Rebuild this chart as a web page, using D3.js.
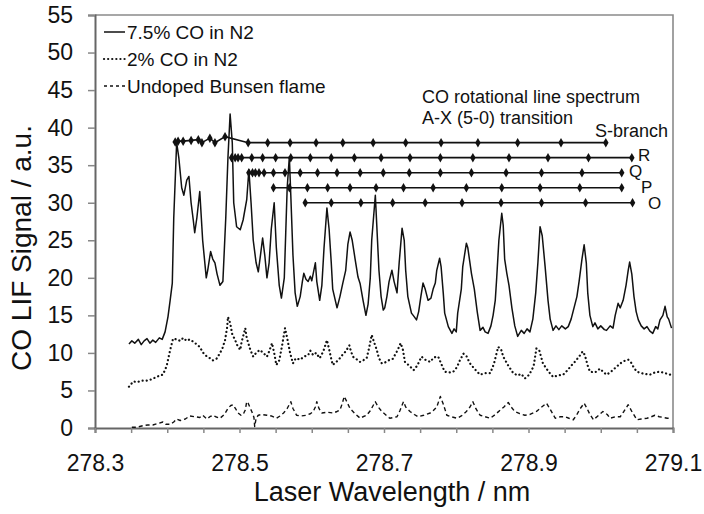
<!DOCTYPE html>
<html>
<head>
<meta charset="utf-8">
<script src="https://cdnjs.cloudflare.com/ajax/libs/d3/7.8.5/d3.min.js"></script>
<style>
  body { margin: 0; background: #fff; }
  text { font-family: "Liberation Sans", Arial, sans-serif; fill: #111; }
</style>
</head>
<body>
<script>
// ---- data ----
// 7.5% CO in N2 (solid)
const co75Wl = [278.347,278.351,278.355,278.360,278.364,278.368,278.372,278.376,278.380,278.384,278.389,278.393,278.397,278.401,278.404,278.407,278.409,278.413,278.416,278.420,278.423,278.427,278.430,278.433,278.436,278.438,278.441,278.445,278.449,278.454,278.456,278.460,278.463,278.466,278.469,278.473,278.477,278.481,278.484,278.487,278.490,278.492,278.496,278.501,278.505,278.510,278.513,278.516,278.519,278.523,278.526,278.529,278.532,278.535,278.538,278.541,278.544,278.548,278.551,278.555,278.558,278.562,278.564,278.566,278.569,278.571,278.574,278.577,278.580,278.584,278.587,278.589,278.592,278.595,278.598,278.600,278.605,278.607,278.611,278.614,278.617,278.621,278.624,278.627,278.629,278.635,278.639,278.643,278.647,278.650,278.653,278.656,278.660,278.664,278.667,278.671,278.675,278.678,278.681,278.683,278.688,278.690,278.693,278.696,278.699,278.701,278.704,278.707,278.711,278.714,278.718,278.721,278.725,278.728,278.730,278.733,278.738,278.742,278.745,278.748,278.751,278.754,278.757,278.761,278.765,278.768,278.771,278.773,278.777,278.779,278.782,278.784,278.789,278.794,278.797,278.800,278.802,278.807,278.809,278.814,278.816,278.821,278.825,278.829,278.833,278.837,278.840,278.844,278.848,278.851,278.854,278.856,278.859,278.863,278.865,278.867,278.870,278.873,278.877,278.881,278.885,278.890,278.894,278.898,278.902,278.906,278.910,278.913,278.916,278.919,278.923,278.927,278.930,278.934,278.938,278.942,278.946,278.951,278.955,278.959,278.963,278.967,278.970,278.974,278.977,278.980,278.982,278.985,278.989,278.992,278.996,279.000,279.005,279.008,279.013,279.017,279.020,279.024,279.027,279.031,279.035,279.038,279.040,279.043,279.046,279.049,279.052,279.056,279.060,279.064,279.068,279.072,279.076,279.079,279.082,279.086,279.089,279.092,279.094,279.098];
const co75Sig = [11.2,11.6,11.3,11.8,11.1,11.6,11.9,11.3,11.7,11.4,12.0,11.8,12.8,14.8,17.0,19.3,28.0,38.0,36.0,32.0,31.0,33.0,33.5,30.0,27.7,26.0,28.0,31.5,25.0,20.0,21.0,23.5,22.5,22.0,20.5,19.0,19.5,28.0,36.0,41.8,38.0,30.0,26.8,26.4,27.7,30.4,34.4,30.0,25.0,22.0,20.8,23.0,25.3,23.0,20.0,22.0,26.5,30.0,24.0,19.0,17.3,20.0,26.0,32.0,36.1,31.0,23.0,18.0,16.2,17.5,19.5,20.6,19.8,19.5,20.2,19.6,22.0,19.5,17.0,19.0,24.0,29.3,26.5,22.0,18.5,16.0,17.5,19.3,21.0,24.5,26.1,25.0,22.5,20.1,19.2,17.0,15.0,16.5,20.0,25.0,31.0,27.0,21.0,17.5,15.7,16.0,17.5,19.5,21.0,19.5,18.0,22.0,26.6,25.0,21.0,17.5,15.3,14.8,14.4,15.5,17.5,19.3,18.5,17.0,17.3,18.5,19.3,21.0,22.6,21.5,18.0,15.3,13.5,12.6,13.2,12.8,15.3,18.5,21.5,24.6,24.0,20.6,18.5,15.5,13.0,13.4,12.8,12.6,13.6,15.0,17.0,20.0,25.0,28.6,27.0,22.5,20.6,19.0,16.0,13.6,12.2,13.0,12.6,13.2,12.8,14.5,18.0,22.0,26.8,25.6,21.5,17.0,14.5,13.0,13.6,13.1,13.6,13.2,13.5,14.5,16.0,17.5,19.5,22.5,24.4,22.0,18.0,15.0,13.5,14.0,13.2,13.6,13.1,13.0,13.6,13.3,15.0,16.6,16.0,17.0,19.0,21.0,22.1,20.5,17.5,15.5,14.4,13.6,13.2,13.5,12.9,12.6,13.5,13.2,14.4,15.0,16.2,14.8,14.5,13.3];

// 2% CO in N2 (dotted)
const co2Wl = [278.347,278.353,278.358,278.365,278.371,278.376,278.383,278.390,278.394,278.399,278.404,278.408,278.413,278.418,278.422,278.427,278.431,278.436,278.440,278.445,278.449,278.455,278.459,278.463,278.466,278.469,278.473,278.476,278.480,278.483,278.484,278.487,278.490,278.494,278.497,278.501,278.503,278.508,278.510,278.515,278.519,278.523,278.528,278.533,278.538,278.541,278.545,278.548,278.551,278.555,278.559,278.563,278.566,278.570,278.574,278.578,278.584,278.589,278.595,278.598,278.602,278.606,278.611,278.616,278.621,278.624,278.627,278.629,278.634,278.639,278.643,278.647,278.652,278.654,278.657,278.663,278.667,278.671,278.676,278.679,278.683,278.686,278.690,278.693,278.697,278.701,278.708,278.712,278.715,278.719,278.723,278.726,278.729,278.735,278.741,278.746,278.752,278.757,278.764,278.769,278.775,278.779,278.784,278.790,278.796,278.801,278.805,278.810,278.814,278.819,278.826,278.833,278.840,278.847,278.852,278.858,278.862,278.865,278.872,278.879,278.885,278.890,278.895,278.901,278.907,278.911,278.915,278.920,278.927,278.934,278.941,278.948,278.955,278.959,278.964,278.970,278.975,278.978,278.982,278.985,278.992,278.999,279.003,279.008,279.013,279.020,279.027,279.032,279.038,279.042,279.046,279.050,279.056,279.061,279.068,279.075,279.082,279.089,279.096];
const co2Sig = [5.5,6.2,6.1,6.3,6.3,6.4,6.7,7.0,7.1,8.2,10.4,11.9,11.8,11.6,12.0,11.6,11.8,11.5,11.2,10.8,10.1,9.5,9.3,9.0,9.1,9.3,10.0,10.5,11.7,13.5,14.8,14.0,12.5,11.7,11.0,10.4,11.5,13.3,12.0,10.4,9.5,10.0,10.4,10.0,9.5,10.2,11.3,10.0,8.4,9.0,11.0,13.3,12.0,10.0,8.6,9.3,9.1,9.5,9.7,10.3,9.7,10.0,9.3,10.2,11.7,10.5,9.2,8.4,8.8,9.3,9.8,10.2,11.0,10.3,9.5,9.1,8.8,9.0,9.3,10.5,12.4,11.5,10.4,9.3,8.6,8.7,9.1,9.2,9.7,10.4,11.3,10.5,8.8,8.3,7.7,8.3,9.5,9.1,8.8,9.4,9.5,8.6,7.5,7.4,7.5,8.1,9.0,9.9,9.6,8.6,7.8,7.1,7.3,7.3,8.5,10.8,10.5,9.5,8.3,7.3,7.0,7.2,6.6,7.1,8.2,10.6,10.3,8.6,7.6,6.8,7.0,7.1,7.8,8.3,8.8,9.5,10.2,9.7,8.3,7.5,7.4,7.9,7.5,7.1,7.4,8.0,8.6,8.9,9.1,8.7,8.0,7.5,7.3,7.2,7.1,7.4,7.5,7.3,7.1];

// undoped Bunsen flame (dashed)
const flameWl = [278.351,278.358,278.366,278.373,278.380,278.387,278.394,278.398,278.404,278.409,278.413,278.418,278.425,278.431,278.438,278.445,278.449,278.455,278.459,278.463,278.467,278.473,278.479,278.484,278.488,278.491,278.495,278.498,278.502,278.505,278.508,278.510,278.512,278.515,278.517,278.520,278.521,278.523,278.526,278.531,278.538,278.544,278.551,278.556,278.561,278.566,278.571,278.574,278.579,278.585,278.593,278.598,278.602,278.605,278.607,278.610,278.614,278.621,278.630,278.635,278.639,278.642,278.645,278.649,278.653,278.660,278.667,278.671,278.676,278.681,278.685,278.688,278.692,278.697,278.703,278.708,278.718,278.722,278.727,278.730,278.736,278.742,278.747,278.755,278.764,278.768,278.773,278.778,278.782,278.787,278.793,278.801,278.807,278.814,278.819,278.823,278.827,278.833,278.840,278.847,278.854,278.861,278.866,278.872,278.876,278.881,278.888,278.895,278.902,278.911,278.917,278.925,278.930,278.937,278.944,278.951,278.956,278.962,278.967,278.971,278.977,278.981,278.985,278.990,278.996,279.003,279.009,279.013,279.020,279.027,279.032,279.038,279.043,279.050,279.056,279.064,279.070,279.075,279.081,279.087,279.092,279.096];
const flameSig = [0.1,0.1,0.3,0.4,0.4,0.6,0.8,0.5,0.5,0.8,1.2,1.0,1.2,1.6,1.5,1.4,1.7,1.2,1.5,1.7,1.5,1.3,1.8,2.6,3.0,3.1,2.5,2.0,1.7,1.8,2.4,3.5,3.3,2.6,2.2,1.4,0.2,1.3,1.7,1.8,1.7,1.6,1.3,1.6,2.0,2.6,3.5,2.6,1.7,1.6,1.7,1.9,2.2,2.8,3.5,2.6,2.0,2.1,2.0,2.2,2.4,3.2,4.2,3.4,2.6,1.9,1.3,1.5,1.7,2.3,3.0,3.5,2.8,2.2,1.7,1.3,1.5,2.3,3.5,2.8,2.2,1.8,1.5,1.7,2.0,2.3,2.8,4.2,3.2,1.7,1.5,1.3,1.6,2.2,2.8,3.5,2.6,1.7,1.5,1.3,1.8,2.4,2.8,3.4,2.8,2.2,1.9,1.7,1.8,2.2,2.7,3.3,2.5,1.3,1.5,1.5,1.3,1.1,1.8,2.5,3.3,2.6,1.8,1.1,1.6,2.2,1.8,1.3,1.5,1.5,2.2,3.1,2.2,1.1,1.2,1.3,1.5,1.7,1.5,1.4,1.3,1.3];

// rotational line positions of the A-X (5-0) branches
const branchNames = ["S-branch", "R", "Q", "P", "O"];
const branchLevel = [38, 36, 34, 32, 30];
const sBranchWl = [278.411,278.415,278.422,278.433,278.443,278.448,278.459,278.466,278.480,278.512,278.539,278.570,278.606,278.643,278.685,278.730,278.779,278.830,278.885,278.945,279.007];
const sBranchSig = [38.1,38.2,38.2,38.3,38.4,38.0,38.6,38.0,38.8,38,38,38,38,38,38,38,38,38,38,38,38];
const rBranchWl = [278.489,278.494,278.498,278.503,278.517,278.532,278.550,278.571,278.598,278.627,278.659,278.696,278.736,278.778,278.823,278.873,278.927,278.983,279.043];
const qBranchWl = [278.513,278.518,278.522,278.527,278.534,278.547,278.563,278.584,278.608,278.635,278.667,278.699,278.735,278.778,278.821,278.869,278.918,278.974,279.029];
const pBranchWl = [278.547,278.569,278.594,278.622,278.653,278.689,278.727,278.768,278.814,278.863,278.916,278.971,279.029];
const oBranchWl = [278.591,278.627,278.668,278.712,278.757,278.808,278.862,278.918,278.979,279.044];

const xTicks = [278.3, 278.5, 278.7, 278.9, 279.1];
const yTicks = [0, 5, 10, 15, 20, 25, 30, 35, 40, 45, 50, 55];
const legendLabels = ["7.5% CO in N2", "2% CO in N2", "Undoped Bunsen flame"];

// ---- layout ----
const width = 704, height = 514;
const mLeft = 95, mRight = 673, mTop = 15, mBottom = 428;

const svg = d3.select("body").append("svg")
  .attr("width", width)
  .attr("height", height);

const x = d3.scaleLinear().domain([278.3, 279.1]).range([mLeft, mRight]);
const y = d3.scaleLinear().domain([0, 55]).range([mBottom, mTop]);

// frame (top and right)
svg.append("path")
  .attr("d", `M${mLeft},${mTop}H${mRight}V${mBottom}`)
  .attr("fill", "none")
  .attr("stroke", "#8a8a8a")
  .attr("stroke-width", 1.6);

// y axis
const yAxis = svg.append("g")
  .attr("transform", `translate(${mLeft},0)`)
  .call(d3.axisLeft(y).tickValues(yTicks).tickSize(7).tickPadding(15));
// x axis: minor ticks every 0.05 nm, labels every 0.2 nm
const xAxis = svg.append("g")
  .attr("transform", `translate(0,${mBottom})`)
  .call(d3.axisBottom(x).tickValues(d3.range(0, 17).map(i => +(278.3 + i * 0.05).toFixed(2)))
    .tickSize(5).tickPadding(22)
    .tickFormat(d => xTicks.some(t => Math.abs(t - d) < 1e-6) ? d3.format(".1f")(d) : ""));

[yAxis, xAxis].forEach(g => {
  g.select(".domain").attr("stroke", "#666").attr("stroke-width", 2);
  g.selectAll(".tick line").attr("stroke", "#888").attr("stroke-width", 1.5);
  g.selectAll(".tick text")
    .style("font-family", "'Liberation Sans', Arial, sans-serif")
    .style("font-size", "23px")
    .attr("fill", "#111");
});
xAxis.selectAll(".tick text").attr("dy", "0.71em");

// axis titles
svg.append("text")
  .attr("x", 392)
  .attr("y", 501)
  .attr("text-anchor", "middle")
  .style("font-size", "27px")
  .text("Laser Wavelength / nm");

svg.append("text")
  .attr("transform", "translate(31,248) rotate(-90)")
  .attr("text-anchor", "middle")
  .style("font-size", "28px")
  .text("CO LIF Signal / a.u.");

// spectra
const line = d3.line().x(d => x(d[0])).y(d => y(d[1]));
const series = [
  { wl: co75Wl, sig: co75Sig, dash: null, width: 1.5, cap: "butt" },
  { wl: co2Wl, sig: co2Sig, dash: "0.1,4", width: 2.2, cap: "round" },
  { wl: flameWl, sig: flameSig, dash: "4,3", width: 1.4, cap: "butt" }
];
series.forEach(s => {
  svg.append("path")
    .datum(s.wl.map((w, i) => [w, s.sig[i]]))
    .attr("d", line)
    .attr("fill", "none")
    .attr("stroke", "#111")
    .attr("stroke-width", s.width)
    .attr("stroke-linecap", s.cap)
    .attr("stroke-linejoin", "round")
    .attr("stroke-dasharray", s.dash);
});

// branch marker lines
const branches = [
  sBranchWl.map((w, i) => [w, sBranchSig[i]]),
  rBranchWl.map(w => [w, branchLevel[1]]),
  qBranchWl.map(w => [w, branchLevel[2]]),
  pBranchWl.map(w => [w, branchLevel[3]]),
  oBranchWl.map(w => [w, branchLevel[4]])
];
const diamond = d3.symbol().type(d3.symbolDiamond).size(26);
branches.forEach(pts => {
  svg.append("path")
    .datum(pts)
    .attr("d", line)
    .attr("fill", "none")
    .attr("stroke", "#111")
    .attr("stroke-width", 1.6);
  svg.append("g").selectAll("path")
    .data(pts)
    .join("path")
    .attr("transform", d => `translate(${x(d[0])},${y(d[1])})`)
    .attr("d", diamond)
    .attr("fill", "#111");
});

// annotations
svg.append("text").attr("x", 422).attr("y", 103).style("font-size", "18px")
  .text("CO rotational line spectrum");
svg.append("text").attr("x", 422).attr("y", 124).style("font-size", "18px")
  .text("A-X (5-0) transition");
const labelPos = [[595, 137], [638, 161], [629, 177], [641, 193], [648, 209]];
branchNames.forEach((n, i) => {
  svg.append("text")
    .attr("x", labelPos[i][0]).attr("y", labelPos[i][1])
    .style("font-size", i === 0 ? "18px" : "17px")
    .text(n);
});

// legend
const legendDash = [null, "0.1,4", "3,3"];
const legendWidth = [1.5, 2.2, 1.4];
legendLabels.forEach((lab, i) => {
  const ly = 32 + i * 27;
  svg.append("line")
    .attr("x1", 104).attr("x2", 125)
    .attr("y1", ly).attr("y2", ly)
    .attr("stroke", "#111")
    .attr("stroke-width", legendWidth[i])
    .attr("stroke-linecap", i === 1 ? "round" : "butt")
    .attr("stroke-dasharray", legendDash[i]);
  svg.append("text")
    .attr("x", 127).attr("y", ly + 7)
    .style("font-size", "19px")
    .text(lab);
});
</script>
</body>
</html>
